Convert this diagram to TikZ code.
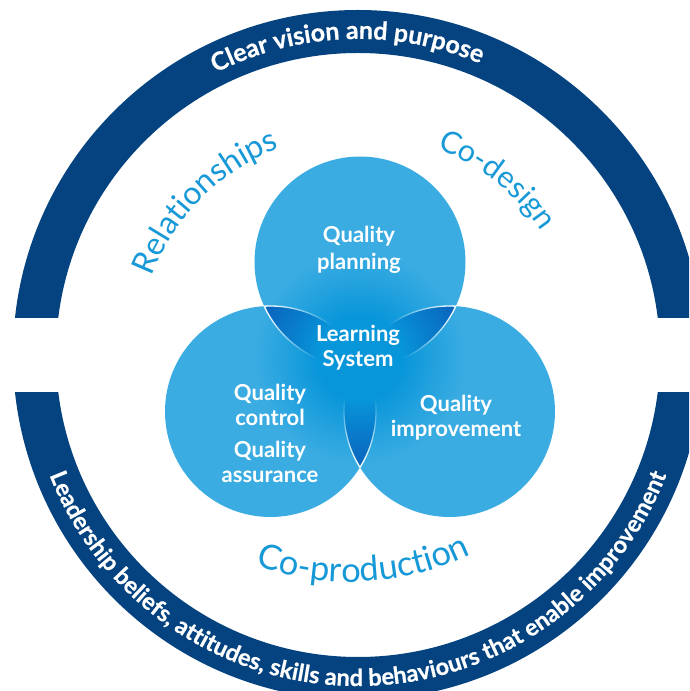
\documentclass[tikz,border=0pt]{standalone}
\usepackage{fontspec}
\setmainfont{Lato}
\newfontfamily\ringfont{Lato}[BoldFeatures={FakeBold=0.6}]
\usetikzlibrary{decorations.text,fadings}

\definecolor{ringnavy}{RGB}{4,67,128}
\definecolor{venn}{RGB}{58,172,226}
\definecolor{glow}{RGB}{8,150,218}
\definecolor{lens}{RGB}{10,102,190}
\definecolor{theme}{RGB}{23,152,215}

% soft centre glow: opaque core, fading out towards the rim
\pgfdeclareradialshading{glowmask}{\pgfpointorigin}{%
  color(0bp)=(white); color(10bp)=(white);
  color(17bp)=(black!50); color(25bp)=(black);
  color(50bp)=(black)}
\pgfdeclarefading{glowfade}{\pgfuseshading{glowmask}}

\newcommand{\vennr}{105.5}

\begin{document}
\begin{tikzpicture}[x=1pt,y=1pt,
  inlabel/.style={text=white, font=\bfseries\fontsize{22}{25.5}\selectfont,
    align=center, inner sep=0pt, anchor=base},
  ringtext/.style 2 args={decorate, decoration={text along path, text align=center,
    text color=white, text={|\ringfont\bfseries\fontsize{#1}{#1}\selectfont|#2}}},
  themetext/.style 2 args={decorate, decoration={text along path, text align=center,
    text color=theme, text={|\fontsize{#1}{#1}\selectfont|#2}}},
  edge/.style={white, line width=1.3pt}]

\useasboundingbox (0,0) rectangle (689,691);
\clip (0,0) rectangle (689,691);

\coordinate (C) at (358,336);

% outer ring, split by a horizontal band
\begin{scope}
  \clip (0,373) rectangle (689,691);
  \fill[ringnavy, even odd rule] (C) circle (345) (C) circle (302);
\end{scope}
\begin{scope}
  \clip (0,0) rectangle (689,298);
  \fill[ringnavy, even odd rule] (C) circle (345) (C) circle (302);
\end{scope}

% three overlapping circles
\coordinate (T) at (360,429);
\coordinate (L) at (270.5,279.5);
\coordinate (R) at (449.5,279.5);
\coordinate (G) at (360,333);

\fill[venn] (T) circle (\vennr) (L) circle (\vennr) (R) circle (\vennr);

\foreach \a/\b in {T/L, T/R, L/R} {
  \begin{scope}
    \clip (\a) circle (\vennr);
    \fill[lens] (\b) circle (\vennr);
    \draw[edge] (\b) circle (\vennr);
  \end{scope}
  \begin{scope}
    \clip (\b) circle (\vennr);
    \draw[edge] (\a) circle (\vennr);
  \end{scope}
}

% glow in the middle
\fill[glow, path fading=glowfade] (G) circle (105);

% labels inside the circles (anchored at the last line's baseline)
\node[inlabel] (plan) at (359,421) {Quality\\[2pt]planning};
\node[inlabel] (learn) at (358,324) {Learning\\System};
\node[inlabel] (qcqa) at (270,208) {Quality\\control\\[6pt]Quality\\assurance};
\node[inlabel] (impr) at (456,254) {Quality\\improvement};

% curved theme words
\path[themetext={32}{Relationships}] (C) ++(175:221) arc[start angle=175, end angle=95, radius=221];
\path[themetext={30.5}{Co-design}] (C) ++(91.5:221) arc[start angle=91.5, end angle=11.5, radius=221];
\coordinate (P) at (350,389);
\path[themetext={34.5}{Co-production}] (P) ++(231:280) arc[start angle=231, end angle=315, radius=280];

% text on the ring
\path[ringtext={25}{Clear vision and purpose}] (C) ++(162:316) arc[start angle=162, end angle=22, radius=316];
\path[ringtext={23.6}{Leadership beliefs, attitudes, skills and behaviours that enable improvement}]
  (C) ++(186:331) arc[start angle=186, end angle=354, radius=331];

\end{tikzpicture}
\end{document}
